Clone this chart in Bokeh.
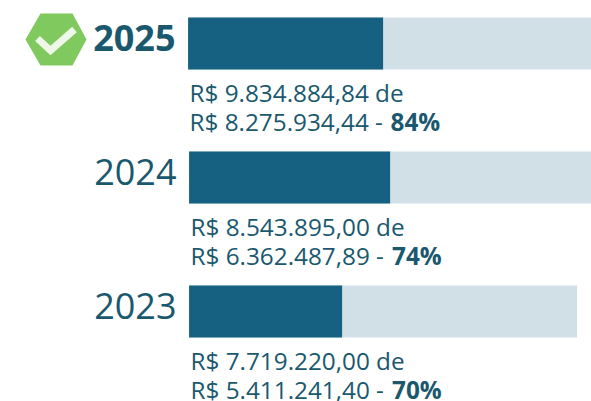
from bokeh.plotting import figure
from bokeh.models import Range1d, ColumnDataSource
from bokeh.core.properties import value
from bokeh.embed import file_html
from bokeh.resources import INLINE

years = ["2025", "2024", "2023"]
target_labels = ["R$ 9.834.884,84 de", "R$ 8.543.895,00 de", "R$ 7.719.220,00 de"]
paid_labels = ["R$ 8.275.934,44 - ", "R$ 6.362.487,89 - ", "R$ 5.411.241,40 - "]
percent_labels = ["84%", "74%", "70%"]
bar_filled = [195, 201, 153]
bar_total = [410, 410, 388]

DARK = "#166082"
LIGHT = "#d1dfe6"
TEXT = "#1a586e"
FONT = value("Open Sans")

bar_left = [187.6, 188.6, 188.6]
bar_top = [17, 151, 285]
BAR_H = 52
year_right = [175, 176, 176]
year_base = [37, 171, 305]
line1 = [t + 75 for t in bar_top]
line2 = [t + 104 for t in bar_top]
text_left = [189, 190, 190]
pct_left = [390, 391.5, 391.5]
year_style = ["bold", "normal", "normal"]

p = figure(width=591, height=401, x_range=Range1d(0, 591), y_range=Range1d(401, 0),
           output_backend="svg", toolbar_location=None, min_border=0,
           outline_line_color=None, background_fill_color="white")
p.xaxis.visible = False
p.yaxis.visible = False
p.grid.visible = False

src = ColumnDataSource(dict(
    left=bar_left,
    filled=[l + v for l, v in zip(bar_left, bar_filled)],
    total=[l + v for l, v in zip(bar_left, bar_total)],
    top=bar_top,
    bottom=[t + BAR_H for t in bar_top],
    year=years, yr=year_right, yb=year_base, ys=year_style,
    tgt=target_labels, paid=paid_labels, pct=percent_labels,
    tl=text_left, pl=pct_left, l1=line1, l2=line2,
))
p.quad(left="left", right="total", top="top", bottom="bottom", source=src,
       fill_color=LIGHT, line_color=None)
p.quad(left="left", right="filled", top="top", bottom="bottom", source=src,
       fill_color=DARK, line_color=None)

p.text(x="yr", y="yb", text="year", source=src, text_font=FONT, text_font_size="36px",
       text_font_style="ys", text_color=TEXT, text_align="right", text_baseline="middle")
p.text(x="tl", y="l1", text="tgt", source=src, text_font=FONT, text_font_size="24.3px",
       text_color=TEXT, text_align="left", text_baseline="middle")
p.text(x="tl", y="l2", text="paid", source=src, text_font=FONT, text_font_size="24.3px",
       text_color=TEXT, text_align="left", text_baseline="middle")
p.text(x="pl", y="l2", text="pct", source=src, text_font=FONT, text_font_size="24.3px",
       text_font_style="bold", text_color=TEXT, text_align="left", text_baseline="middle")

badge_x = [25, 40, 72, 86, 72, 40]
badge_y = [39, 13, 13, 39, 65, 65]
check_x = [37, 50, 74]
check_y = [38, 50, 29]
p.patch(badge_x, badge_y, fill_color="#80c95f", line_color=None)
p.line(check_x, check_y, line_color="#eef8e8", line_width=7, line_join="miter")

open("out.html", "w").write(file_html(p, INLINE))
